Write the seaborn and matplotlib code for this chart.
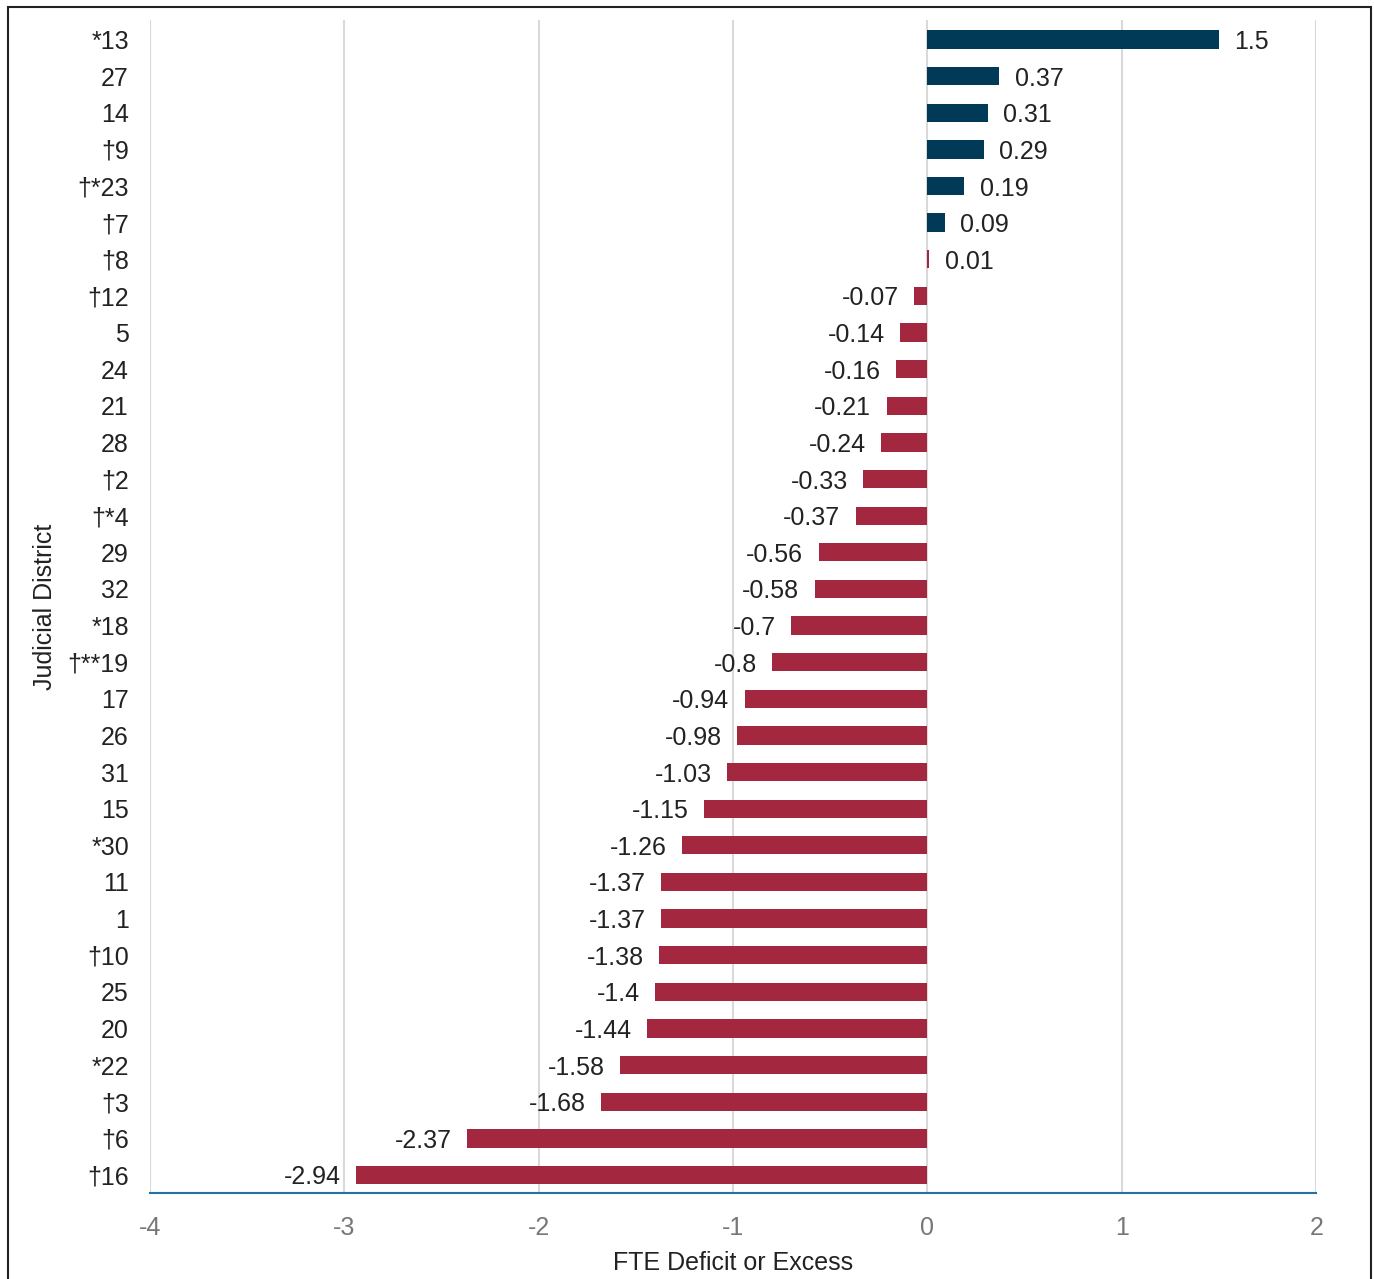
import matplotlib
matplotlib.use('Agg')
import matplotlib.pyplot as plt
import seaborn as sns
import pandas as pd
from matplotlib.patches import Rectangle

# dados (de cima para baixo)
districts = ['*13', '27', '14', '†9', '†*23', '†7', '†8', '†12', '5', '24', '21', '28',
             '†2', '†*4', '29', '32', '*18', '†**19', '17', '26', '31', '15', '*30', '11',
             '1', '†10', '25', '20', '*22', '†3', '†6', '†16']
fte_values = [1.5, 0.37, 0.31, 0.29, 0.19, 0.09, 0.01, -0.07, -0.14, -0.16, -0.21, -0.24,
              -0.33, -0.37, -0.56, -0.58, -0.7, -0.8, -0.94, -0.98, -1.03, -1.15, -1.26, -1.37,
              -1.37, -1.38, -1.4, -1.44, -1.58, -1.68, -2.37, -2.94]
x_ticks = [-4, -3, -2, -1, 0, 1, 2]

df = pd.DataFrame({'district': districts, 'fte': fte_values})

sns.set_style('white')
plt.rcParams['font.family'] = ['Liberation Sans', 'DejaVu Sans']

fig = plt.figure(figsize=(13.74, 12.79), dpi=100)
ax = fig.add_axes([0.109, 0.067, 0.849, 0.917])

sns.barplot(data=df, y='district', x='fte', orient='h', color='#a2273f',
            width=0.5, ax=ax, zorder=3)

# cores: positivo azul escuro, negativo vermelho
for bar, v in zip(ax.patches, fte_values):
    bar.set_facecolor('#003a57' if v > 0.05 else '#a2273f')
    bar.set_edgecolor('none')

labels = ax.bar_label(ax.containers[0], labels=[f'{v:g}' for v in fte_values],
                      padding=11, fontsize=18, color='#222222')
for t in labels:
    t.set_va('center_baseline')

ax.set_xlim(-4, 2)
ax.set_ylim(len(districts) - 0.5, -0.52)
ax.set_xticks(x_ticks)
ax.set_xticklabels([str(t) for t in x_ticks])
ax.xaxis.grid(True, color='#d9d9d9', linewidth=1.5, zorder=0)
ax.yaxis.grid(False)

for s in ['top', 'right', 'left']:
    ax.spines[s].set_visible(False)
ax.spines['bottom'].set_color('#2471a3')
ax.spines['bottom'].set_linewidth(1.5)

ax.tick_params(axis='x', length=0, pad=16, labelsize=18, labelcolor='#777777')
ax.tick_params(axis='y', length=0, pad=15, labelsize=18, labelcolor='#222222')

ax.set_xlabel('FTE Deficit or Excess', fontsize=18, color='#222222', labelpad=8)
ax.set_ylabel('Judicial District', fontsize=18, color='#222222', labelpad=8)

# moldura em volta da figura
fig.patches.append(Rectangle((8 / 1374, -0.01), 1363 / 1374, 1 - 7 / 1279 + 0.01,
                             transform=fig.transFigure, fill=False,
                             edgecolor='#222222', linewidth=1.5, clip_on=False))

fig.savefig('out.png', dpi=100)
